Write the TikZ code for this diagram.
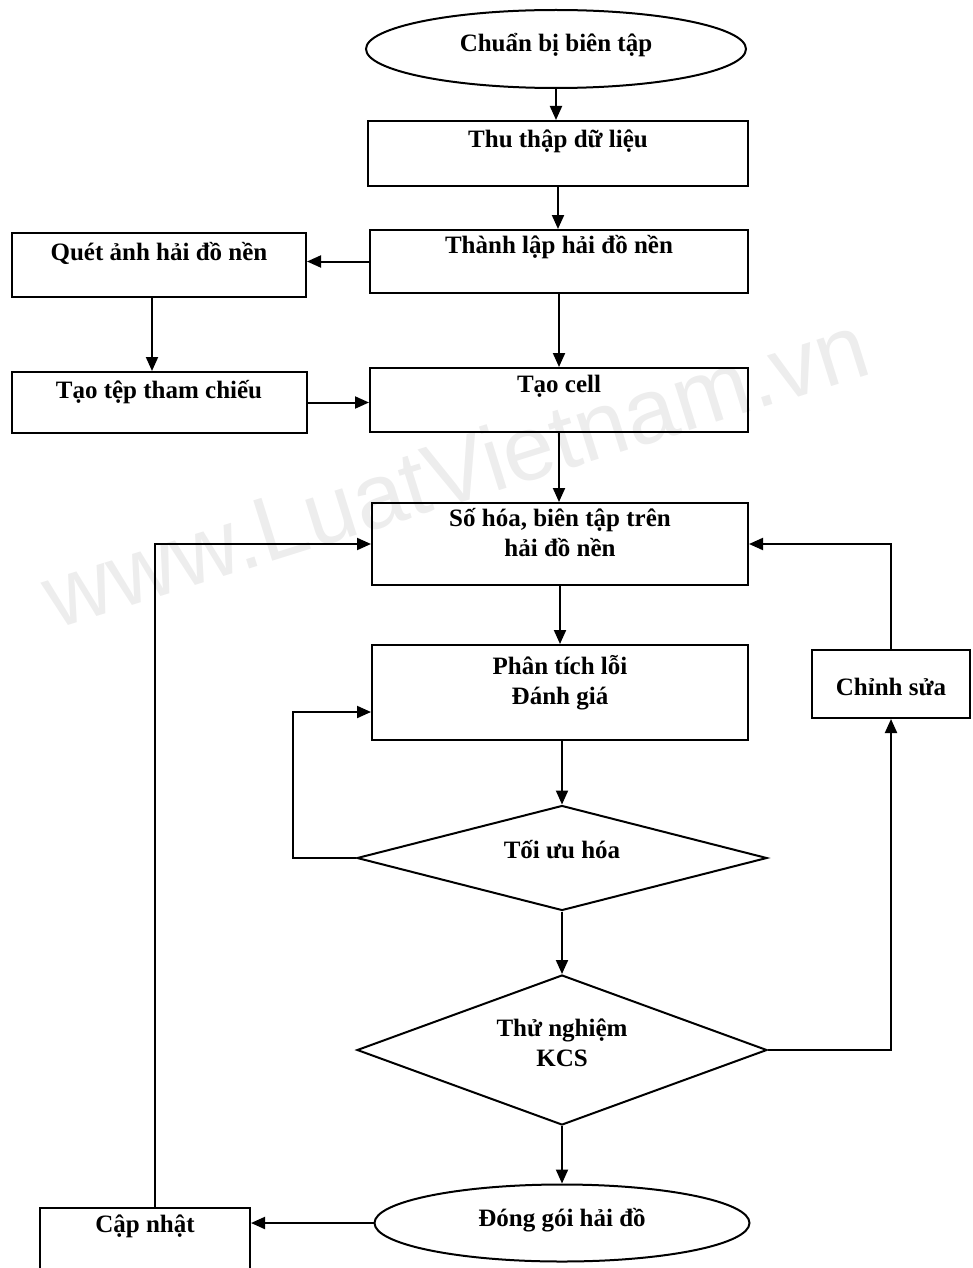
\documentclass[tikz,border=0pt]{standalone}
\usepackage{fontspec}
\setmainfont{Liberation Serif}
\newfontfamily\wmfont{Liberation Sans}
\usetikzlibrary{shapes.geometric,arrows.meta}
\begin{document}
\begin{tikzpicture}[x=1pt,y=-1pt,
  box/.style={draw,line width=2pt,inner sep=0pt,rectangle},
  oval/.style={draw,line width=2pt,inner sep=0pt,ellipse},
  dia/.style={draw,line width=2pt,inner sep=0pt,diamond},
  lbl/.style={font=\fontsize{25}{30}\selectfont\bfseries,align=center,inner sep=0pt},
  arr/.style={line width=2pt,-{Triangle[length=14pt,width=12pt]}},
  wm/.style={font=\wmfont\fontsize{92}{92}\selectfont,text=black!7,inner sep=0pt}]
\useasboundingbox (0,0) rectangle (972,1268);
\node[wm,rotate=17.4] (water) at (455,470) {www.LuatVietnam.vn};

% shapes
\node[oval,minimum width=380pt,minimum height=78pt] (chuan) at (556,49) {};
\node[box,minimum width=380pt,minimum height=65pt] (thu) at (558,153.5) {};
\node[box,minimum width=378pt,minimum height=63pt] (thanh) at (559,261.5) {};
\node[box,minimum width=294pt,minimum height=64pt] (quet) at (159,265) {};
\node[box,minimum width=295pt,minimum height=61pt] (taotep) at (159.5,402.5) {};
\node[box,minimum width=378pt,minimum height=64pt] (cell) at (559,400) {};
\node[box,minimum width=376pt,minimum height=82pt] (soh) at (560,544) {};
\node[box,minimum width=376pt,minimum height=95pt] (phan) at (560,692.5) {};
\node[box,minimum width=158pt,minimum height=68pt] (chinh) at (891,684) {};
\node[dia,minimum width=410pt,minimum height=105pt] (toiuu) at (562,858) {};
\node[dia,minimum width=410pt,minimum height=150pt] (thunghiem) at (562,1050) {};
\node[oval,minimum width=375pt,minimum height=77pt] (donggoi) at (562,1223) {};
\node[box,minimum width=210pt,minimum height=82pt] (capnhat) at (145,1249) {};

% texts
\node[lbl] (tchuan) at (556,45) {Chuẩn bị biên tập};
\node[lbl] (tthu) at (558,141) {Thu thập dữ liệu};
\node[lbl] (tthanh) at (559,247) {Thành lập hải đồ nền};
\node[lbl] (tquet) at (159,253) {Quét ảnh hải đồ nền};
\node[lbl] (ttaotep) at (159,392) {Tạo tệp tham chiếu};
\node[lbl] (tcell) at (559,386) {Tạo cell};
\node[lbl] (tsoh) at (560,533) {Số hóa, biên tập trên\\hải đồ nền};
\node[lbl] (tphan) at (560,683) {Phân tích lỗi\\Đánh giá};
\node[lbl] (tchinh) at (891,687) {Chỉnh sửa};
\node[lbl] (ttoiuu) at (562,850) {Tối ưu hóa};
\node[lbl] (tthunghiem) at (562,1043) {Thử nghiệm\\KCS};
\node[lbl] (tdonggoi) at (562,1220) {Đóng gói hải đồ};
\node[lbl] (tcapnhat) at (145,1226) {Cập nhật};

% connectors
\coordinate (loopA) at (293,712);
\draw[arr] (chuan.south) -- (chuan.south |- thu.north);
\draw[arr] (thu.south) -- (thu.south |- thanh.north);
\draw[arr] (thanh.west) -- (thanh.west -| quet.east);
\draw[arr] (thanh.south) -- (thanh.south |- cell.north);
\draw[arr] ([xshift=-7pt]quet.south) -- ([xshift=-7pt]quet.south |- taotep.north);
\draw[arr] (taotep.east) -- (taotep.east -| cell.west);
\draw[arr] (cell.south) -- (cell.south |- soh.north);
\draw[arr] (soh.south) -- (soh.south |- phan.north);
\draw[arr] (phan.south -| toiuu.north) -- (toiuu.north);
\draw[arr] (toiuu.west) -| (loopA) -- (loopA -| phan.west);
\draw[arr] (toiuu.south) -- (thunghiem.north);
\draw[arr] (thunghiem.east) -| (chinh.south);
\draw[arr] (chinh.north) |- (soh.east);
\draw[arr] (thunghiem.south) -- (donggoi.north);
\draw[arr] (donggoi.west) -- (donggoi.west -| capnhat.east);
\draw[arr] ([xshift=10pt]capnhat.north) |- (soh.west);
\end{tikzpicture}
\end{document}
